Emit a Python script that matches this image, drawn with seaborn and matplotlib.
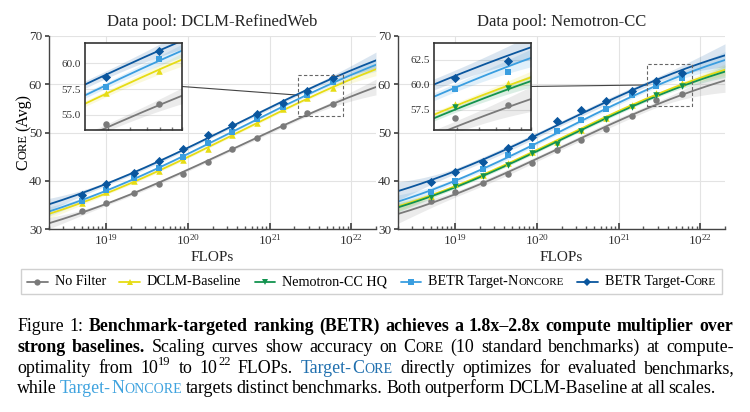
import re
import numpy as np
import matplotlib
matplotlib.use('Agg')
import matplotlib.pyplot as plt
import seaborn as sns
from matplotlib.patches import Rectangle, ConnectionPatch
from matplotlib.lines import Line2D
from matplotlib.ticker import FormatStrFormatter, NullFormatter
from matplotlib.offsetbox import DrawingArea, TextArea, HPacker, AnchoredOffsetbox

# compute budgets of the runs (FLOPs)
flops = [5e18, 1e19, 2.2e19, 4.4e19, 8.8e19, 1.75e20, 3.5e20, 7e20, 1.45e21, 2.9e21, 5.9e21]

# CORE (Avg) on the DCLM-RefinedWeb pool
dclm_nofilter = [33.8, 35.4, 37.4, 39.4, 41.5, 43.8, 46.6, 48.8, 51.4, 54.1, 56.0]
dclm_baseline = [35.3, 37.6, 40.0, 42.0, 44.4, 46.5, 49.5, 52.0, 54.8, 57.1, 59.3]
dclm_noncore = [35.8, 38.1, 40.5, 42.6, 45.0, 47.8, 50.1, 52.8, 55.3, 57.7, 60.4]
dclm_core = [37.0, 39.4, 41.6, 44.1, 46.6, 49.5, 51.5, 53.8, 56.2, 58.7, 61.2]

# CORE (Avg) on the Nemotron-CC pool
nemo_nofilter = [35.7, 37.7, 39.5, 41.5, 43.7, 46.3, 48.5, 50.7, 53.5, 56.7, 58.0]
nemo_baseline = [36.9, 39.3, 41.2, 43.6, 45.9, 48.1, 50.6, 53.1, 55.6, 58.1, 60.2]
nemo_hq = [36.7, 39.0, 41.0, 43.2, 45.7, 47.7, 50.4, 52.8, 55.3, 57.8, 59.7]
nemo_noncore = [37.6, 39.9, 42.4, 45.3, 47.2, 50.3, 52.6, 54.9, 57.8, 59.6, 61.3]
nemo_core = [39.8, 41.9, 43.9, 46.8, 49.0, 52.3, 54.6, 56.5, 58.5, 60.7, 62.4]

names = ['No Filter', 'DCLM-Baseline', 'Nemotron-CC HQ', 'BETR Target-{Noncore}', 'BETR Target-{Core}']
colors = ['#7a7a7a', '#e6dc14', '#12934f', '#3a9ee0', '#0a569e']
markers = ['o', '^', 'v', 's', 'D']

W, H = 750, 412
sns.set_theme(style='whitegrid')
plt.rcParams['font.family'] = ['Liberation Serif', 'DejaVu Serif']
plt.rcParams['mathtext.fontset'] = 'custom'
plt.rcParams['mathtext.rm'] = 'Liberation Serif'
plt.rcParams['mathtext.it'] = 'Liberation Serif:italic'

fig = plt.figure(figsize=(W / 100, H / 100), dpi=100)
grid = np.linspace(np.log10(2e18), np.log10(2e22), 200)
lx = np.log10(flops)


def fit_panel(series):
    # y = a_i + b_i * sigmoid(k * (log10 C - c)); shape (k, c) shared inside a panel
    kk, cc = np.meshgrid(np.linspace(0.2, 4, 77), np.linspace(17, 24, 141))
    kk, cc = kk.ravel(), cc.ravel()
    S = 1 / (1 + np.exp(-kk[:, None] * (lx[None, :] - cc[:, None])))
    sm = S.mean(1, keepdims=True)
    total = np.zeros(len(kk))
    coefs = []
    for _, y in series:
        y = np.asarray(y)
        b = ((S - sm) * (y - y.mean())).sum(1) / ((S - sm) ** 2).sum(1)
        a = y.mean() - b * sm[:, 0]
        sse = ((y[None, :] - a[:, None] - b[:, None] * S) ** 2).sum(1)
        total += sse
        coefs.append((a, b, sse))
    j = np.argmin(total)
    k, c = kk[j], cc[j]
    out = []
    for (a, b, sse) in coefs:
        a, b, sse = a[j], b[j], sse[j]

        def parts(x):
            s = 1 / (1 + np.exp(-k * (x - c)))
            J = np.stack([np.ones_like(x), s, b * s * (1 - s) * (x - c), -b * k * s * (1 - s)], 1)
            return a + b * s, J

        _, J = parts(lx)
        cov = max(sse, 0.5) / (len(lx) - 4) * np.linalg.pinv(J.T @ J)
        fit, G = parts(grid)
        se = np.sqrt(np.clip(np.einsum('ij,jk,ik->i', G, cov, G), 0, None))
        out.append((fit, np.minimum(2 * se, 3)))
    return out


def draw_series(ax, series, fits):
    for (i, y), (fit, band) in zip(series, fits):
        c = colors[i]
        ax.fill_between(10 ** grid, fit - band, fit + band, color=c, alpha=0.15, lw=0)
        sns.lineplot(x=10 ** grid, y=fit, color=c, lw=1.3, ax=ax)
        sns.scatterplot(x=flops, y=y, color=c, marker=markers[i], s=22, linewidth=0, ax=ax, zorder=3)


panels = [
    ('Data pool: DCLM-RefinedWeb', 49, [(0, dclm_nofilter), (1, dclm_baseline), (3, dclm_noncore), (4, dclm_core)],
     (2.2e21, 8e21), (53.5, 62.0), [55.0, 57.5, 60.0]),
    ('Data pool: Nemotron-CC', 398, [(0, nemo_nofilter), (1, nemo_baseline), (2, nemo_hq), (3, nemo_noncore), (4, nemo_core)],
     (2.2e21, 8e21), (55.5, 64.2), [57.5, 60.0, 62.5]),
]

for title, left, series, zx, zy, zticks in panels:
    fits = fit_panel(series)
    ax = fig.add_axes([left / W, 1 - 229 / H, 327 / W, 193 / H])
    ax.set_xscale('log')
    draw_series(ax, series, fits)
    ax.set_xlim(2e18, 2e22)
    ax.set_ylim(30, 70)
    ax.set_yticks([30, 40, 50, 60, 70])
    ax.set_title(title, fontsize=12, pad=7)
    ax.set_xlabel('FLOPs', fontsize=11, labelpad=2)
    ax.set_ylabel('')
    ax.grid(True, which='major', color='#e3e3e3', lw=0.8)
    for s in ['top', 'right']:
        ax.spines[s].set_visible(False)
    for s in ['left', 'bottom']:
        ax.spines[s].set_color('#444444')
        ax.spines[s].set_linewidth(1.0)
    ax.tick_params(axis='x', which='major', direction='in', length=4, color='#444444', labelsize=9.5,
                   labelcolor='#333333', pad=3, bottom=True)
    ax.tick_params(axis='x', which='minor', direction='in', length=2.5, color='#555555', bottom=True)
    ax.tick_params(axis='y', direction='out', length=3, color='#444444', labelsize=9.5, labelcolor='#333333',
                   pad=2, left=True)

    # zoomed inset of the largest budgets
    ins = ax.inset_axes([0.11, 0.513, 0.296, 0.451])
    ins.set_xscale('log')
    draw_series(ins, series, fits)
    ins.set_xlim(*zx)
    ins.set_ylim(*zy)
    ins.set_yticks(zticks)
    ins.yaxis.set_major_formatter(FormatStrFormatter('%.1f'))
    ins.xaxis.set_major_formatter(NullFormatter())
    ins.xaxis.set_minor_formatter(NullFormatter())
    ins.set_xlabel('')
    ins.set_ylabel('')
    ins.grid(True, axis='y', color='#e3e3e3', lw=0.8)
    ins.grid(False, axis='x')
    ins.set_facecolor('white')
    for s in ins.spines.values():
        s.set_color('#333333')
        s.set_linewidth(1.2)
    ins.tick_params(axis='y', labelsize=8, labelcolor='#333333', length=0, pad=3, left=False)
    ins.tick_params(axis='x', which='both', direction='in', length=2, color='#777777', bottom=True)

    ax.add_patch(Rectangle((zx[0], zy[0]), zx[1] - zx[0], zy[1] - zy[0], fill=False, ls=(0, (3, 2)),
                           ec='#666666', lw=0.8, zorder=4))
    con = ConnectionPatch(xyA=(1, 0.5), coordsA=ins.transAxes, xyB=(zx[0], sum(zy) / 2), coordsB=ax.transData,
                          color='#444444', lw=0.8)
    ax.add_artist(con)

renderer = fig.canvas.get_renderer()
STYLE = {'r': dict(color='black'), 'b': dict(color='black', fontweight='bold'),
         'c1': dict(color='#1f6fae'), 'c2': dict(color='#3fa3df')}


def parse_pieces(word, style):
    # {Xyz} -> small caps, <n> -> superscript
    out = []
    for tok in re.split(r'(\{[^}]*\}|<[^>]*>)', word):
        if not tok:
            continue
        if tok[0] == '{':
            out.append((tok[1], style, 1.0, 0))
            out.append((tok[2:-1].upper(), style, 0.78, 0))
        elif tok[0] == '<':
            out.append((tok[1:-1], style, 0.7, 0.42))
        else:
            out.append((tok, style, 1.0, 0))
    return out


def split_words(segments):
    words = [[]]
    for text, style in segments:
        for k, part in enumerate(text.split(' ')):
            if k > 0:
                words.append([])
            if part:
                words[-1] += parse_pieces(part, style)
    return [w for w in words if w]


def draw_line(segments, x0, x1, y_base, fs, justify=True, rotate=False):
    words = split_words(segments)
    placed, widths = [], []
    for w in words:
        ts, tot = [], 0
        for txt, st, scale, rise in w:
            t = fig.text(0, 0, txt, fontsize=fs * scale, va='baseline', ha='left',
                         rotation=90 if rotate else 0, rotation_mode='anchor', **STYLE[st])
            bb = t.get_window_extent(renderer)
            wpx = bb.height if rotate else bb.width
            ts.append((t, wpx, rise))
            tot += wpx
        placed.append(ts)
        widths.append(tot)
    if justify:
        gap = (x1 - x0 - sum(widths)) / (len(words) - 1)
    else:
        gap = fs * 0.17 * 100 / 72
    if rotate:
        x = (x0 + x1) / 2 - (sum(widths) + gap * (len(words) - 1)) / 2
    else:
        x = x0
    for ts in placed:
        for t, wpx, rise in ts:
            if rotate:
                t.set_position((y_base / W, x / H))
            else:
                t.set_position((x / W, (H - y_base + rise * fs * 100 / 72) / H))
            x += wpx + 0.3
        x += gap


# y label with small caps
draw_line([('{Core} (Avg)', 'r')], H - 229, H - 36, 27, 11.5, justify=False, rotate=True)

# legend
entries = []
for name, c, m in zip(names, colors, markers):
    da = DrawingArea(15, 8, 0, 0)
    da.add_artist(Line2D([0, 7.5, 15], [4, 4, 4], color=c, lw=1.3, marker=m, markersize=4.5,
                         markevery=[1], markeredgewidth=0))
    kids = [TextArea(txt, textprops=dict(fontsize=10.2 * scale, color='black'))
            for txt, st, scale, rise in parse_pieces(name, 'r')]
    lab = HPacker(children=kids, sep=0, pad=0, align='baseline')
    entries.append(HPacker(children=[da, lab], sep=5, pad=0, align='center'))
box = HPacker(children=entries, sep=9.5, pad=0, align='center')
leg = AnchoredOffsetbox(loc='center', child=box, frameon=True, pad=0.45, borderpad=0,
                        bbox_to_anchor=(371.5 / W, 1 - 281.5 / H), bbox_transform=fig.transFigure,
                        prop=dict(size=10))
leg.patch.set_edgecolor('#d0d0d0')
leg.patch.set_boxstyle('square,pad=0')
fig.add_artist(leg)

# caption
fs = 12.9
cap = [
    [('Figure 1: ', 'r'), ('Benchmark-targeted ranking (BETR) achieves a 1.8x\u20132.8x compute multiplier over', 'b')],
    [('strong baselines.', 'b'), (' Scaling curves show accuracy on {Core} (10 standard benchmarks) at compute-', 'r')],
    [('optimality from 10<19> to 10<22> FLOPs.', 'r'), (' Target-{Core}', 'c1'),
     (' directly optimizes for evaluated benchmarks,', 'r')],
    [('while', 'r'), (' Target-{Noncore}', 'c2'),
     (' targets distinct benchmarks. Both outperform DCLM-Baseline at all scales.', 'r')],
]
for k, (line, yb) in enumerate(zip(cap, [331, 352, 373, 393])):
    draw_line(line, 17, 730, yb, fs, justify=(k < 3))

fig.savefig('out.png', dpi=100)
